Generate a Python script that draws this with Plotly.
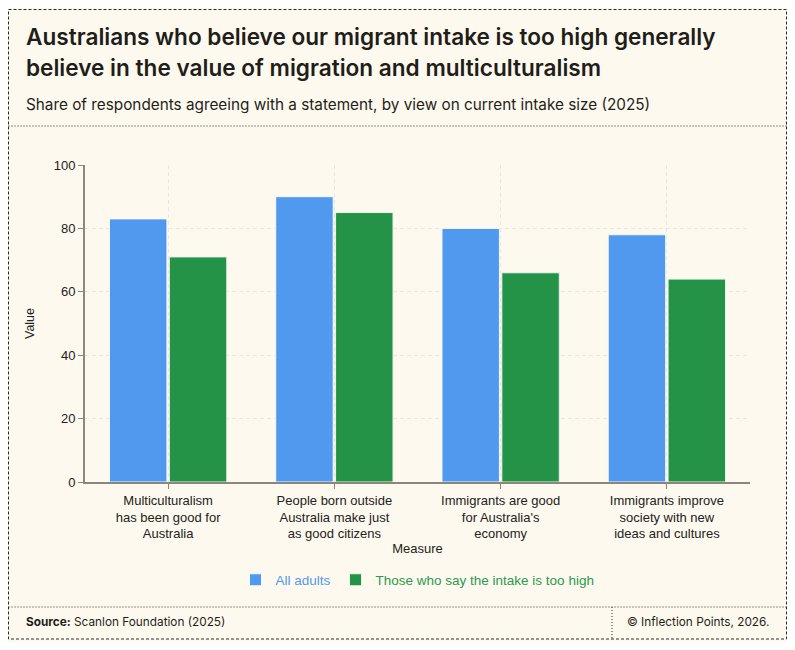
import plotly.graph_objects as go

# data
measures = [
    "Multiculturalism<br>has been good for<br>Australia",
    "People born outside<br>Australia make just<br>as good citizens",
    "Immigrants are good<br>for Australia's<br>economy",
    "Immigrants improve<br>society with new<br>ideas and cultures",
]
all_adults = [83, 90, 80, 78]
intake_too_high = [71, 85, 66, 64]
series_names = ["All adults", "Those who say the intake is too high"]

BLUE = "#5199ef"
GREEN = "#249247"
BG = "#fef9ee"
AXIS = "#8c877c"
INK = "#1e1e1a"
GRID = "#ede7da"
HEAD_FONT = "Inter"
TICK_FONT = "Liberation Sans, Arial, sans-serif"

# figure sits 8px in from the page corner (body margin)
OFF = 8
W, H = 779, 634
L, R, T, B = 77, 37, 157, 160


def px(x):
    # screen pixel -> paper x
    return (x - OFF - L) / (W - L - R)


def py(y):
    # screen pixel -> paper y
    return (H - B - (y - OFF)) / (H - T - B)


fig = go.Figure()
fig.add_trace(go.Bar(x=measures, y=all_adults,
                     name=f"<span style='color:{BLUE}'>{series_names[0]}</span>",
                     marker=dict(color=BLUE, line=dict(color="#f4f8fd", width=1))))
fig.add_trace(go.Bar(x=measures, y=intake_too_high,
                     name=f"<span style='color:#2a9a4e'>{series_names[1]}</span>",
                     marker=dict(color=GREEN, line=dict(color="#eaf4ec", width=1))))

fig.update_layout(
    width=W, height=H,
    margin=dict(l=L, r=R, t=T, b=B),
    paper_bgcolor=BG, plot_bgcolor=BG,
    barmode="group", bargap=0.28, bargroupgap=0.04,
    font=dict(family=TICK_FONT, size=13, color="#222"),
    showlegend=True,
    legend=dict(orientation="h", x=0.5, xanchor="center", y=py(580), yanchor="middle",
                font=dict(size=13.5), bgcolor="rgba(0,0,0,0)", itemwidth=30,
                tracegroupgap=0),
)
fig.update_xaxes(
    title=dict(text="Measure", font=dict(size=13, color="#222"), standoff=1),
    showline=True, linecolor=AXIS, linewidth=2,
    ticks="outside", ticklen=5, tickcolor=AXIS,
    showgrid=True, gridcolor=GRID, griddash="4px,3px", gridwidth=1,
    tickfont=dict(size=13, color="#222"),
)
fig.update_yaxes(
    title=dict(text="Value", font=dict(size=12.5, color="#222"), standoff=16),
    range=[0, 100], dtick=20,
    showline=True, linecolor=AXIS, linewidth=2,
    ticks="outside", ticklen=5, tickcolor=AXIS,
    showgrid=True, gridcolor=GRID, griddash="4px,3px", gridwidth=1,
    zeroline=False,
    tickfont=dict(size=13, color="#222"),
)

shapes = [
    # outer frame
    dict(type="rect", x0=px(8.5), x1=px(786.5), y0=py(9.5), y1=py(639),
         line=dict(color="#2a2a26", width=1, dash="3px,2px")),
    # header divider
    dict(type="line", x0=px(8.5), x1=px(786.5), y0=py(126), y1=py(126),
         line=dict(color="#2a2a26", width=1, dash="1px,2px")),
    # footer dividers
    dict(type="line", x0=px(8.5), x1=px(786.5), y0=py(607), y1=py(607),
         line=dict(color="#2a2a26", width=1, dash="1px,2px")),
    dict(type="line", x0=px(612), x1=px(612), y0=py(607), y1=py(639),
         line=dict(color="#2a2a26", width=1, dash="1px,2px")),
]
for s in shapes:
    s.update(xref="paper", yref="paper", layer="above")
fig.update_layout(shapes=shapes)

ann = [
    dict(text="Australians who believe our migrant intake is too high generally",
         x=px(24), y=py(36), font=dict(family=HEAD_FONT, size=22.6, color=INK, weight=600)),
    dict(text="believe in the value of migration and multiculturalism",
         x=px(24), y=py(68), font=dict(family=HEAD_FONT, size=22.6, color=INK, weight=600)),
    dict(text="Share of respondents agreeing with a statement, by view on current intake size (2025)",
         x=px(24), y=py(104), font=dict(family=HEAD_FONT, size=15.3, color=INK)),
    dict(text="<b>Source:</b> Scanlon Foundation (2025)",
         x=px(24), y=py(622), font=dict(family=HEAD_FONT, size=11.8, color=INK)),
    dict(text="© Inflection Points, 2026.",
         x=px(771), y=py(622), xanchor="right",
         font=dict(family=HEAD_FONT, size=11.8, color=INK)),
]
for a in ann:
    a.setdefault("xanchor", "left")
    a.update(xref="paper", yref="paper", yanchor="middle", showarrow=False)
fig.update_layout(annotations=ann)

fig.write_html("out.html")
